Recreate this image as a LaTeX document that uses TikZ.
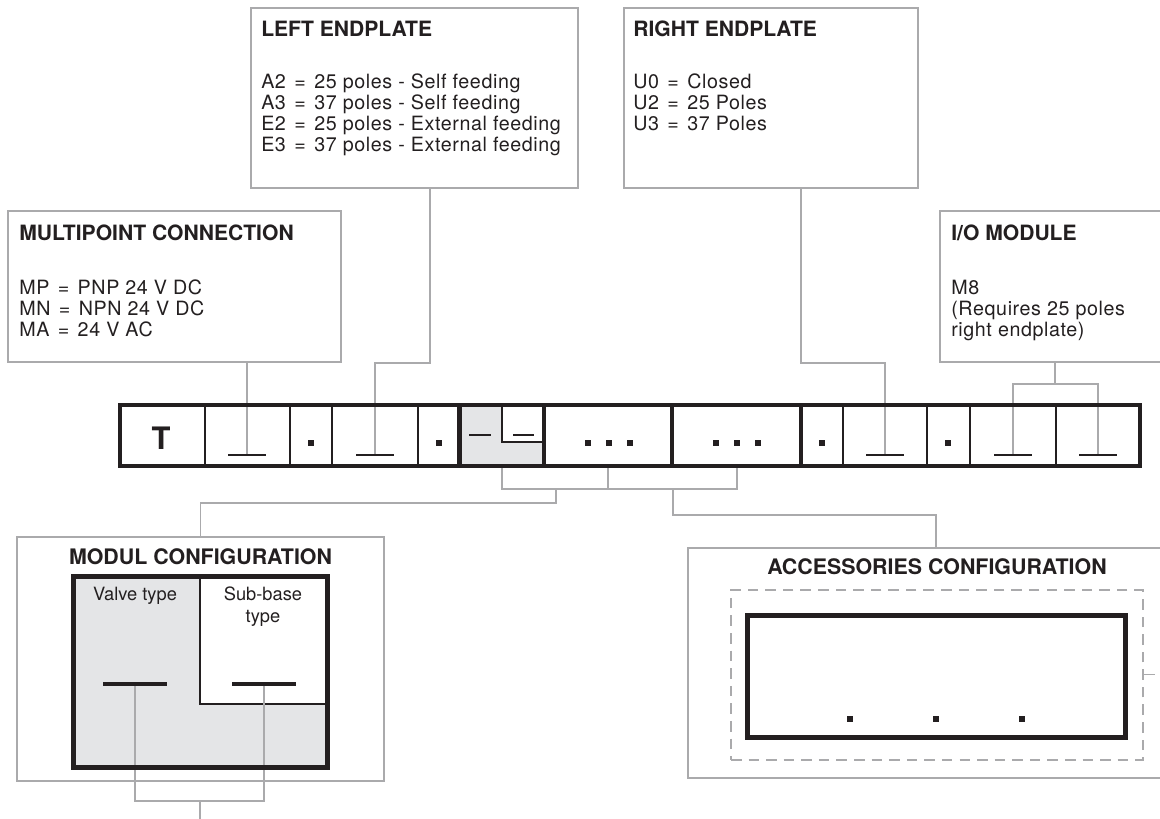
\documentclass[tikz,border=0pt]{standalone}
\usepackage{fontspec}
\setmainfont{TeX Gyre Heros}
\newfontfamily\bodyfont[LetterSpace=3]{TeX Gyre Heros}
\usetikzlibrary{positioning, fit}

\definecolor{linegray}{RGB}{170,170,172}
\definecolor{fillgray}{RGB}{228,229,231}
\definecolor{ink}{RGB}{35,31,32}

\newcommand{\eqsign}{\hspace{0.12em}=\hspace{0.12em}}

\begin{document}
\begin{tikzpicture}[x=0.025cm, y=-0.025cm,
  infobox/.style={draw=linegray, line width=1.4pt, inner sep=0pt},
  conn/.style={draw=linegray, line width=1.4pt},
  slotbox/.style={draw=linegray, line width=1.4pt, dash pattern=on 7.5pt off 5pt, inner sep=0pt},
  frame/.style={draw=ink, line width=3.5pt, inner sep=0pt},
  boxtitle/.style={font=\fontsize{15}{15}\selectfont\bfseries, text=ink, inner sep=0pt},
  boxtext/.style={font=\bodyfont\fontsize{14}{14.9}\selectfont, text=ink, inner sep=0pt,
    align=left, anchor=north west},
  smalltext/.style={font=\fontsize{13}{15}\selectfont, text=ink, inner sep=0pt,
    align=center, anchor=north},
  thinsep/.style={draw=ink, line width=1pt},
  thicksep/.style={draw=ink, line width=3.5pt},
  tee/.style={draw=ink, line width=2pt},
  dot/.style={fill=ink, minimum size=3.6pt, inner sep=0pt}
]

\useasboundingbox (0,0) rectangle (1160,819);

% --- Option boxes above the code ---
\node[infobox, fit={(8,211) (341,362)}] (mpbox) {};
\node[boxtitle, anchor=base west] (mptitle) at (19,241) {MULTIPOINT CONNECTION};
\node[boxtext] (mptext) at (19,280)
  {MP \eqsign{} PNP 24 V DC\\MN \eqsign{} NPN 24 V DC\\MA \eqsign{} 24 V AC};

\node[infobox, fit={(251,8) (578,188)}] (lebox) {};
\node[boxtitle, anchor=base west] (letitle) at (261,37) {LEFT ENDPLATE};
\node[boxtext] (letext) at (261,74)
  {A2 \eqsign{} 25 poles - Self feeding\\A3 \eqsign{} 37 poles - Self feeding\\
   E2 \eqsign{} 25 poles - External feeding\\E3 \eqsign{} 37 poles - External feeding};

\node[infobox, fit={(624,8) (918,188)}] (rebox) {};
\node[boxtitle, anchor=base west] (retitle) at (633,37) {RIGHT ENDPLATE};
\node[boxtext] (retext) at (633,74)
  {U0 \eqsign{} Closed\\U2 \eqsign{} 25 Poles\\U3 \eqsign{} 37 Poles};

\node[infobox, fit={(940,211) (1175,362)}] (iobox) {};
\node[boxtitle, anchor=base west] (iotitle) at (951,241) {I/O MODULE};
\node[boxtext] (iotext) at (951,280)
  {M8\\(Requires 25 poles\\right endplate)};

% --- Code bar: grey module cell ---
\fill[fillgray] (459,405) rectangle (544,466);
\fill[white] (502,405) rectangle (544,442);
\draw[thinsep] (502,405) |- (544,442);

% --- Tee positions in the code bar ---
\foreach \name/\x in {tee1/247, tee2/375, tee3/885, tee4/1013, tee5/1098} {
  \coordinate (\name) at (\x,455);
}

% --- Connectors from the option boxes ---
\coordinate (le-out) at (430,188);
\coordinate (re-out) at (801,188);
\coordinate (io-out) at (1055,362);
\coordinate (io-split) at (1055,384);
\draw[conn] (mpbox.south -| tee1) -- (tee1);
\draw[conn] (le-out) |- (tee2 |- mpbox.south) -- (tee2);
\draw[conn] (re-out) |- (tee3 |- mpbox.south) -- (tee3);
\draw[conn] (io-out) -- (io-split);
\draw[conn] (tee4) |- (io-split) -| (tee5);

% --- Connectors below the code bar ---
\coordinate (mod-left) at (502,466);
\coordinate (acc-left) at (608,466);
\coordinate (acc-right) at (737,466);
\coordinate (join) at (608,489);
\coordinate (mod-tap) at (556,489);
\coordinate (acc-tap) at (673,489);
\draw[conn] (mod-left) |- (join) -| (acc-right);
\draw[conn] (acc-left) -- (join);

% --- Code bar separators and frame ---
\foreach \x in {205, 290, 332, 418, 843, 927, 970, 1056} {
  \draw[thinsep] (\x,405) -- (\x,466);
}
\foreach \x in {459.5, 544, 672, 801} {
  \draw[thicksep] (\x,405) -- (\x,466);
}
\node[frame, fit={(120,405) (1140,466)}] (codebar) {};

% --- Code bar contents ---
\node[font=\fontsize{22}{22}\selectfont\bfseries, text=ink, inner sep=0pt] (tcode) at (161,438) {T};
\foreach \name in {tee1, tee2, tee3, tee4, tee5} {
  \draw[tee] ([xshift=-13.5pt]\name) -- ([xshift=13.5pt]\name);
}
\draw[thinsep, line width=1.4pt] (469,435) -- (491,435);
\draw[thinsep, line width=1.4pt] (513,435) -- (534,435);
\foreach \x/\lab in {311/a, 439/b, 588/c, 609/d, 630/e, 716/f, 737/g, 758/h, 822/i, 948/j} {
  \node[dot] (dot\lab) at (\x,443) {};
}

% --- Modul configuration ---
\node[infobox, fit={(17,537) (384,781)}] (modbox) {};
\draw[conn] (mod-tap) -- ++(0,14) -| (modbox.north);
\node[boxtitle, font=\fontsize{15.2}{15}\selectfont\bfseries] (modtitle) at (200.5,557) {MODUL CONFIGURATION};
\fill[fillgray] (73.5,576.5) rectangle (327.5,767.5);
\fill[white] (200,576.5) rectangle (327.5,704);
\draw[thinsep] (200,576.5) |- (327.5,704);
\node[smalltext] (valvelbl) at (135,587) {Valve type};
\node[smalltext] (sublbl) at (263,587) {Sub-base\\type};
\coordinate (valvebar) at (135,684);
\coordinate (subbar) at (264,684);
\coordinate (modjoin) at (200,801);
\draw[conn] (valvebar) |- (modjoin) -| (subbar);
\draw[conn] (modjoin) -- (200,825);
\node[frame, fit={(73.5,576.5) (327.5,767.5)}] (modframe) {};
\draw[tee, line width=3pt] ([xshift=-22.5pt]valvebar) -- ([xshift=22.5pt]valvebar);
\draw[tee, line width=3pt] ([xshift=-22.5pt]subbar) -- ([xshift=22.5pt]subbar);

% --- Accessories configuration ---
\node[infobox, fit={(688,548) (1184,778)}] (accbox) {};
\draw[conn] (acc-tap) -- ++(0,26) -| (accbox.north);
\node[boxtitle, font=\fontsize{15.2}{15}\selectfont\bfseries] (acctitle) at (937,567) {ACCESSORIES CONFIGURATION};
\node[slotbox, fit={(731,590) (1143,760)}] (accslot) {};
\draw[conn, dash pattern=on 7.5pt off 5pt] (accslot.east) ++(0,-0.5) -- ++(30,0);
\node[frame, fit={(747.5,615.5) (1125.5,737.5)}] (accframe) {};
\foreach \x/\lab in {850/a, 936/b, 1022/c} {
  \node[dot, minimum size=4.2pt] (acc\lab) at (\x,719) {};
}

\end{tikzpicture}
\end{document}
